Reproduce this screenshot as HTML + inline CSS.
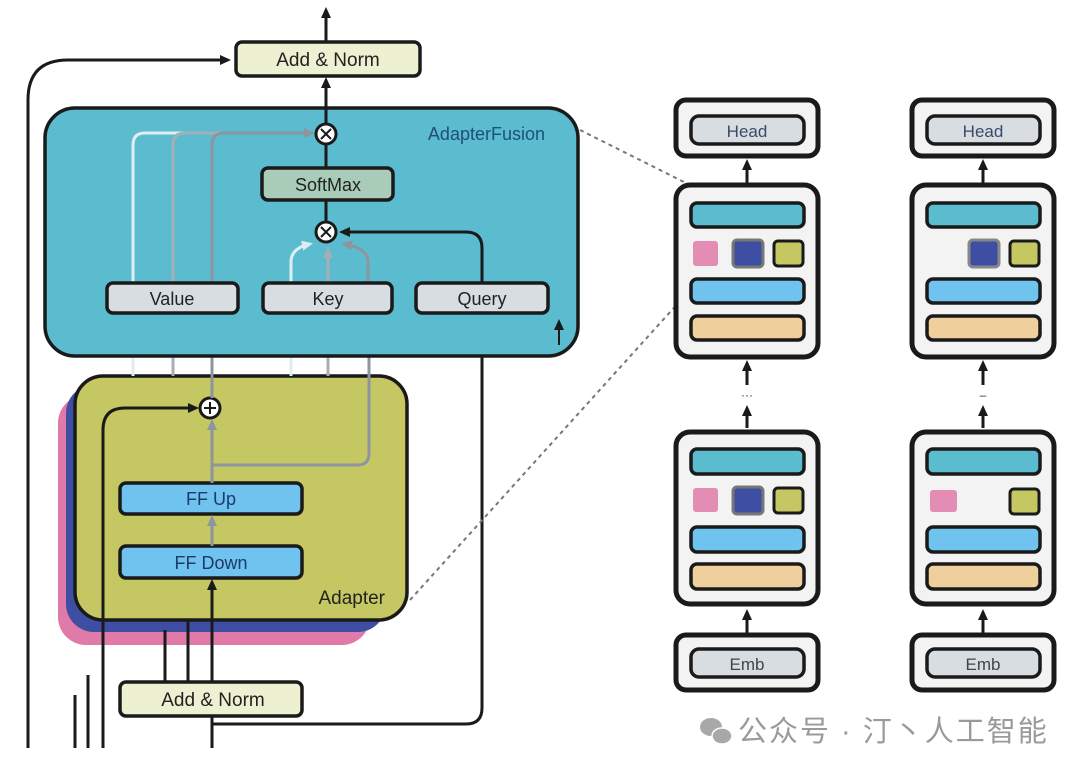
<!DOCTYPE html>
<html><head><meta charset="utf-8"><style>
html,body{margin:0;padding:0;background:#fff;width:1080px;height:772px;overflow:hidden}
text{font-family:"Liberation Sans",Arial,sans-serif}
</style></head><body>
<svg width="1080" height="772" viewBox="0 0 1080 772" xmlns="http://www.w3.org/2000/svg">
<defs>
<marker id="ab" markerWidth="11" markerHeight="10" refX="8" refY="5" orient="auto" markerUnits="userSpaceOnUse"><path d="M0,0 L11,5 L0,10 Z" fill="#1a1a1a"/></marker>
<marker id="ag" markerWidth="11" markerHeight="10" refX="8" refY="5" orient="auto" markerUnits="userSpaceOnUse"><path d="M0,0 L11,5 L0,10 Z" fill="#8d959e"/></marker>
<marker id="al" markerWidth="11" markerHeight="10" refX="8" refY="5" orient="auto" markerUnits="userSpaceOnUse"><path d="M0,0 L11,5 L0,10 Z" fill="#dfeef3"/></marker>
<marker id="am" markerWidth="11" markerHeight="10" refX="8" refY="5" orient="auto" markerUnits="userSpaceOnUse"><path d="M0,0 L11,5 L0,10 Z" fill="#a6aeb6"/></marker>
</defs>

<line x1="326" y1="42" x2="326" y2="10" stroke="#1a1a1a" stroke-width="3" marker-end="url(#ab)"/>
<rect x="236" y="42" width="184" height="34" rx="6" fill="#eef0d2" stroke="#1a1a1a" stroke-width="3.5"/>
<text x="328" y="66" font-size="19" text-anchor="middle" fill="#222">Add &amp; Norm</text>
<path d="M28,748 L28,100 Q28,60 68,60 L228,60" fill="none" stroke="#1a1a1a" stroke-width="3" marker-end="url(#ab)"/>

<rect x="58" y="395" width="312" height="250" rx="28" fill="#e07aa8"/>
<rect x="66" y="385" width="320" height="247" rx="28" fill="#3e4fa3"/>
<rect x="75" y="376" width="332" height="244" rx="28" fill="#c5c862" stroke="#1a1a1a" stroke-width="3.5"/>
<text x="385" y="604" font-size="19" text-anchor="end" fill="#222">Adapter</text>
<rect x="120" y="483" width="182" height="31" rx="6" fill="#6fc3ee" stroke="#1a1a1a" stroke-width="3.5"/>
<text x="211" y="505" font-size="18" text-anchor="middle" fill="#1e3a6a">FF Up</text>
<rect x="120" y="546" width="182" height="32" rx="6" fill="#6fc3ee" stroke="#1a1a1a" stroke-width="3.5"/>
<text x="211" y="569" font-size="18" text-anchor="middle" fill="#1e3a6a">FF Down</text>
<line x1="212" y1="682" x2="212" y2="582" stroke="#1a1a1a" stroke-width="3" marker-end="url(#ab)"/>
<line x1="212" y1="546" x2="212" y2="518" stroke="#8d959e" stroke-width="3" marker-end="url(#ag)"/>
<line x1="212" y1="483" x2="212" y2="422" stroke="#8d959e" stroke-width="3" marker-end="url(#ag)"/>
<path d="M212,465 L358,465 Q369,465 369,453 L369,318" fill="none" stroke="#8d959e" stroke-width="3" marker-end="url(#ag)"/>
<circle cx="210" cy="408" r="10" fill="#fff" stroke="#1a1a1a" stroke-width="3"/>
<path d="M204,408 H216 M210,402 V414" stroke="#1a1a1a" stroke-width="2"/>
<path d="M103,748 L103,430 Q103,408 125,408 L196,408" fill="none" stroke="#1a1a1a" stroke-width="3" marker-end="url(#ab)"/>
<line x1="75" y1="695" x2="75" y2="748" stroke="#1a1a1a" stroke-width="3"/>
<line x1="88" y1="675" x2="88" y2="748" stroke="#1a1a1a" stroke-width="3"/>
<line x1="165" y1="630" x2="165" y2="682" stroke="#1a1a1a" stroke-width="3"/>
<line x1="188" y1="620" x2="188" y2="682" stroke="#1a1a1a" stroke-width="3"/>
<rect x="120" y="682" width="182" height="34" rx="6" fill="#eef0d2" stroke="#1a1a1a" stroke-width="3.5"/>
<text x="213" y="706" font-size="19" text-anchor="middle" fill="#222">Add &amp; Norm</text>
<line x1="212" y1="716" x2="212" y2="748" stroke="#1a1a1a" stroke-width="3"/>
<path d="M212,724 L466,724 Q482,724 482,708 L482,318" fill="none" stroke="#1a1a1a" stroke-width="3" marker-end="url(#ab)"/>

<line x1="133" y1="376" x2="133" y2="318" stroke="#dfeef3" stroke-width="3" marker-end="url(#al)"/>
<line x1="173" y1="376" x2="173" y2="318" stroke="#a6aeb6" stroke-width="3" marker-end="url(#am)"/>
<line x1="212" y1="398" x2="212" y2="318" stroke="#8d959e" stroke-width="3" marker-end="url(#ag)"/>
<line x1="291" y1="376" x2="291" y2="318" stroke="#dfeef3" stroke-width="3" marker-end="url(#al)"/>
<line x1="328" y1="376" x2="328" y2="318" stroke="#a6aeb6" stroke-width="3" marker-end="url(#am)"/>

<rect x="45" y="108" width="533" height="248" rx="30" fill="#5bbccf" stroke="#1a1a1a" stroke-width="3.5"/>
<text x="545" y="140" font-size="18" text-anchor="end" fill="#1f4f7a">AdapterFusion</text>
<path d="M133,283 L133,145 Q133,133 145,133 L312,133" fill="none" stroke="#dfeef3" stroke-width="3"/>
<path d="M173,283 L173,145 Q173,133 185,133 L312,133" fill="none" stroke="#a6aeb6" stroke-width="3"/>
<path d="M212,283 L212,145 Q212,133 224,133 L312,133" fill="none" stroke="#8d959e" stroke-width="3" marker-end="url(#ag)"/>
<path d="M291,283 L291,262 Q291,248 310,244" fill="none" stroke="#dfeef3" stroke-width="3" marker-end="url(#al)"/>
<line x1="328" y1="283" x2="328" y2="250" stroke="#a6aeb6" stroke-width="3" marker-end="url(#am)"/>
<path d="M368,283 L368,262 Q368,248 344,244" fill="none" stroke="#8d959e" stroke-width="3" marker-end="url(#ag)"/>
<line x1="326" y1="124" x2="326" y2="80" stroke="#1a1a1a" stroke-width="3" marker-end="url(#ab)"/>
<line x1="326" y1="144" x2="326" y2="222" stroke="#1a1a1a" stroke-width="3"/>
<path d="M482,283 L482,248 Q482,232 466,232 L342,232" fill="none" stroke="#1a1a1a" stroke-width="3" marker-end="url(#ab)"/>
<rect x="262" y="168" width="131" height="32" rx="6" fill="#a8ccb8" stroke="#1a1a1a" stroke-width="3.5"/>
<text x="328" y="191" font-size="18" text-anchor="middle" fill="#222">SoftMax</text>
<circle cx="326" cy="134" r="10" fill="#fff" stroke="#1a1a1a" stroke-width="3"/>
<path d="M321,129 L331,139 M331,129 L321,139" stroke="#1a1a1a" stroke-width="2"/>
<circle cx="326" cy="232" r="10" fill="#fff" stroke="#1a1a1a" stroke-width="3"/>
<path d="M321,227 L331,237 M331,227 L321,237" stroke="#1a1a1a" stroke-width="2"/>
<rect x="107" y="283" width="131" height="30" rx="6" fill="#d8dde2" stroke="#1a1a1a" stroke-width="3.5"/>
<text x="172" y="305" font-size="18" text-anchor="middle" fill="#222">Value</text>
<rect x="263" y="283" width="129" height="30" rx="6" fill="#d8dde2" stroke="#1a1a1a" stroke-width="3.5"/>
<text x="328" y="305" font-size="18" text-anchor="middle" fill="#222">Key</text>
<rect x="416" y="283" width="132" height="30" rx="6" fill="#d8dde2" stroke="#1a1a1a" stroke-width="3.5"/>
<text x="482" y="305" font-size="18" text-anchor="middle" fill="#222">Query</text>
<line x1="559" y1="345" x2="559" y2="322" stroke="#1a1a1a" stroke-width="2" marker-end="url(#ab)"/>

<line x1="580" y1="130" x2="690" y2="185" stroke="#777" stroke-width="2" stroke-dasharray="4,4"/>
<line x1="410" y1="600" x2="690" y2="290" stroke="#777" stroke-width="2" stroke-dasharray="4,4"/>

<g id="c1">
<rect x="676" y="100" width="142" height="56" rx="10" fill="#f3f3f3" stroke="#1a1a1a" stroke-width="5"/>
<rect x="691" y="116" width="113" height="28" rx="8" fill="#d8dde2" stroke="#1a1a1a" stroke-width="3.5"/>
<text x="747" y="137" font-size="17" text-anchor="middle" fill="#3a4a6a">Head</text>
<line x1="747" y1="185" x2="747" y2="162" stroke="#1a1a1a" stroke-width="3" marker-end="url(#ab)"/>
<rect x="676" y="185" width="142" height="172" rx="14" fill="#f3f3f3" stroke="#1a1a1a" stroke-width="5"/>
<rect x="691" y="203" width="113" height="24" rx="6" fill="#5bbccf" stroke="#1a1a1a" stroke-width="3.5"/>
<rect x="691" y="279" width="113" height="24" rx="6" fill="#6fc3ee" stroke="#1a1a1a" stroke-width="3.5"/>
<rect x="691" y="316" width="113" height="24" rx="6" fill="#efcf9c" stroke="#1a1a1a" stroke-width="3.5"/>
<line x1="747" y1="385" x2="747" y2="363" stroke="#1a1a1a" stroke-width="3" marker-end="url(#ab)"/>
<line x1="747" y1="428" x2="747" y2="408" stroke="#1a1a1a" stroke-width="3" marker-end="url(#ab)"/>
<rect x="676" y="432" width="142" height="172" rx="14" fill="#f3f3f3" stroke="#1a1a1a" stroke-width="5"/>
<rect x="691" y="449" width="113" height="25" rx="6" fill="#5bbccf" stroke="#1a1a1a" stroke-width="3.5"/>
<rect x="691" y="527" width="113" height="25" rx="6" fill="#6fc3ee" stroke="#1a1a1a" stroke-width="3.5"/>
<rect x="691" y="564" width="113" height="25" rx="6" fill="#efcf9c" stroke="#1a1a1a" stroke-width="3.5"/>
<line x1="747" y1="635" x2="747" y2="612" stroke="#1a1a1a" stroke-width="3" marker-end="url(#ab)"/>
<rect x="676" y="635" width="142" height="55" rx="10" fill="#f3f3f3" stroke="#1a1a1a" stroke-width="5"/>
<rect x="691" y="649" width="113" height="28" rx="8" fill="#d8dde2" stroke="#1a1a1a" stroke-width="3.5"/>
<text x="747" y="670" font-size="17" text-anchor="middle" fill="#444">Emb</text>
</g>
<use href="#c1" x="236"/>
<text x="747" y="399" font-size="12" text-anchor="middle" fill="#333">···</text>
<text x="983" y="399" font-size="12" text-anchor="middle" fill="#333">–</text>

<rect x="693" y="241" width="25" height="25" rx="3" fill="#e07aa8" opacity="0.85"/>
<rect x="733" y="240" width="30" height="27" rx="4" fill="#3e4fa3" stroke="#777" stroke-width="3"/>
<rect x="774" y="241" width="29" height="25" rx="4" fill="#c5c862" stroke="#1a1a1a" stroke-width="3"/>
<rect x="693" y="488" width="25" height="24" rx="3" fill="#e07aa8" opacity="0.85"/>
<rect x="733" y="487" width="30" height="27" rx="4" fill="#3e4fa3" stroke="#777" stroke-width="3"/>
<rect x="774" y="488" width="29" height="25" rx="4" fill="#c5c862" stroke="#1a1a1a" stroke-width="3"/>
<rect x="969" y="240" width="30" height="27" rx="4" fill="#3e4fa3" stroke="#888" stroke-width="3"/>
<rect x="1010" y="241" width="29" height="25" rx="4" fill="#c5c862" stroke="#1a1a1a" stroke-width="3"/>
<rect x="930" y="490" width="27" height="22" rx="3" fill="#e07aa8" opacity="0.85"/>
<rect x="1010" y="489" width="29" height="25" rx="4" fill="#c5c862" stroke="#1a1a1a" stroke-width="3"/>

<ellipse cx="711" cy="727" rx="11" ry="9" fill="#a8a8a8"/>
<ellipse cx="722" cy="736" rx="10" ry="8" fill="#a8a8a8" stroke="#fff" stroke-width="1.5"/>
<text x="738" y="741" font-size="29" letter-spacing="2" fill="#9a9a9a" font-family="'Liberation Sans','Noto Sans CJK SC',sans-serif">公众号 · 汀丶人工智能</text>
</svg>
</body></html>
